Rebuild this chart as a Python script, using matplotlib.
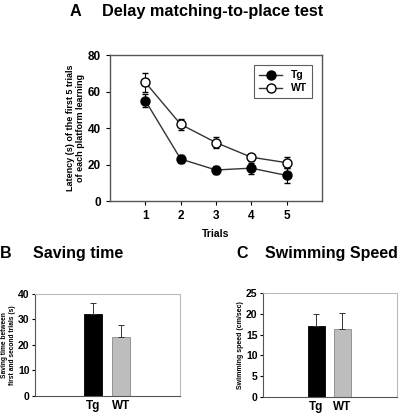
import matplotlib
matplotlib.use("Agg")
from matplotlib import pyplot as plt
from matplotlib.lines import Line2D
import numpy as np

plt.rcParams['font.family'] = ['Liberation Sans', 'DejaVu Sans']

# panel A data
trials = [1, 2, 3, 4, 5]
tg_lat = [55, 23, 17, 18, 14]
tg_err = [3.5, 2.2, 2, 3, 4]
wt_lat = [65, 42, 32, 24, 21]
wt_err = [5, 3, 3, 2, 3]

# panel B / C data
groups = ['Tg', 'WT']
saving = [32, 23]
saving_err = [4.3, 5]
speed = [17, 16.3]
speed_err = [3, 3.9]
bar_colors = ['black', '#bdbdbd']

fig = plt.figure(figsize=(4, 4.13), dpi=100)

# ---- A ----
ax = fig.add_axes([0.275, 0.5133, 0.53, 0.3535])
ax.errorbar(trials, tg_lat, yerr=tg_err, color='#333333', lw=1, marker='o', ms=6.5,
            mfc='black', mec='black', ecolor='black', elinewidth=0.8, capsize=2, zorder=3)
ax.errorbar(trials, wt_lat, yerr=wt_err, color='#333333', lw=1, marker='o', ms=6.5,
            mfc='white', mec='black', ecolor='black', elinewidth=0.8, capsize=2, zorder=3)
ax.set_xlim(0, 6)
ax.set_ylim(0, 80)
ax.set_xticks(trials)
ax.set_yticks([0, 20, 40, 60, 80])
ax.tick_params(labelsize=8.5, length=3, width=0.8, direction='out')
for lab in ax.get_xticklabels() + ax.get_yticklabels():
    lab.set_fontweight('bold')
for s in ax.spines.values():
    s.set_color('#555555')
    s.set_linewidth(1)
ax.set_xlabel('Trials', fontsize=7.5, fontweight='bold', labelpad=5)
ax.set_ylabel('Latency (s) of the first 5 trials\nof each platform learning', fontsize=6.5,
              fontweight='bold', labelpad=2)
# legend without the errorbar whiskers
handles = [Line2D([], [], color='#333333', lw=1, marker='o', ms=6.5, mfc='black', mec='black'),
           Line2D([], [], color='#333333', lw=1, marker='o', ms=6.5, mfc='white', mec='black')]
leg = ax.legend(handles, ['Tg', 'WT'], loc='upper right', bbox_to_anchor=(0.953, 0.932),
                borderaxespad=0, fontsize=7.5, frameon=True, fancybox=False, edgecolor='#333333',
                handlelength=2.2, borderpad=0.5, labelspacing=0.3)
for t in leg.get_texts():
    t.set_fontweight('bold')
leg.get_frame().set_linewidth(0.8)
fig.text(0.175, 0.972, 'A', fontsize=11.7, fontweight='bold', va='center')
fig.text(0.255, 0.972, 'Delay matching-to-place test', fontsize=11.7, fontweight='bold', va='center')


def bar_panel(rect, vals, errs, ymax, step, ylabel, lfs):
    bx = fig.add_axes(rect)
    x = np.arange(len(groups))
    bx.bar(x, vals, width=0.63, color=bar_colors, edgecolor=['black', '#888888'], linewidth=0.6)
    bx.errorbar(x, vals, yerr=[[0, 0], errs], fmt='none', ecolor='#333333', elinewidth=0.7,
                capsize=2, capthick=0.7)
    bx.set_xlim(-2.05, 3.1)
    bx.set_ylim(0, ymax)
    bx.set_yticks(np.arange(0, ymax + 1, step))
    bx.set_xticks(x)
    bx.set_xticklabels(groups)
    bx.tick_params(axis='x', length=0, labelsize=8.5, pad=3)
    bx.tick_params(axis='y', length=2.5, width=0.8, labelsize=7.5, pad=1.5)
    for lab in bx.get_xticklabels() + bx.get_yticklabels():
        lab.set_fontweight('bold')
    bx.spines['top'].set_color('#bbbbbb')
    bx.spines['right'].set_color('#bbbbbb')
    bx.spines['left'].set_color('#555555')
    bx.spines['bottom'].set_color('#555555')
    bx.set_ylabel(ylabel, fontsize=lfs, fontweight='bold', labelpad=1.5)
    return bx


bar_panel([0.0875, 0.0412, 0.3625, 0.247], saving, saving_err, 40, 10,
          'Saving time between\nfirst and second trials (s)', 4.8)
bar_panel([0.6575, 0.0387, 0.335, 0.2518], speed, speed_err, 25, 5,
          'Swimming speed (cm/sec)', 5)

fig.text(0.0, 0.387, 'B', fontsize=11.5, fontweight='bold', va='center')
fig.text(0.083, 0.387, 'Saving time', fontsize=11.5, fontweight='bold', va='center')
fig.text(0.59, 0.387, 'C', fontsize=11.5, fontweight='bold', va='center')
fig.text(0.662, 0.387, 'Swimming Speed', fontsize=11.5, fontweight='bold', va='center')

fig.savefig('out.png', dpi=100)
